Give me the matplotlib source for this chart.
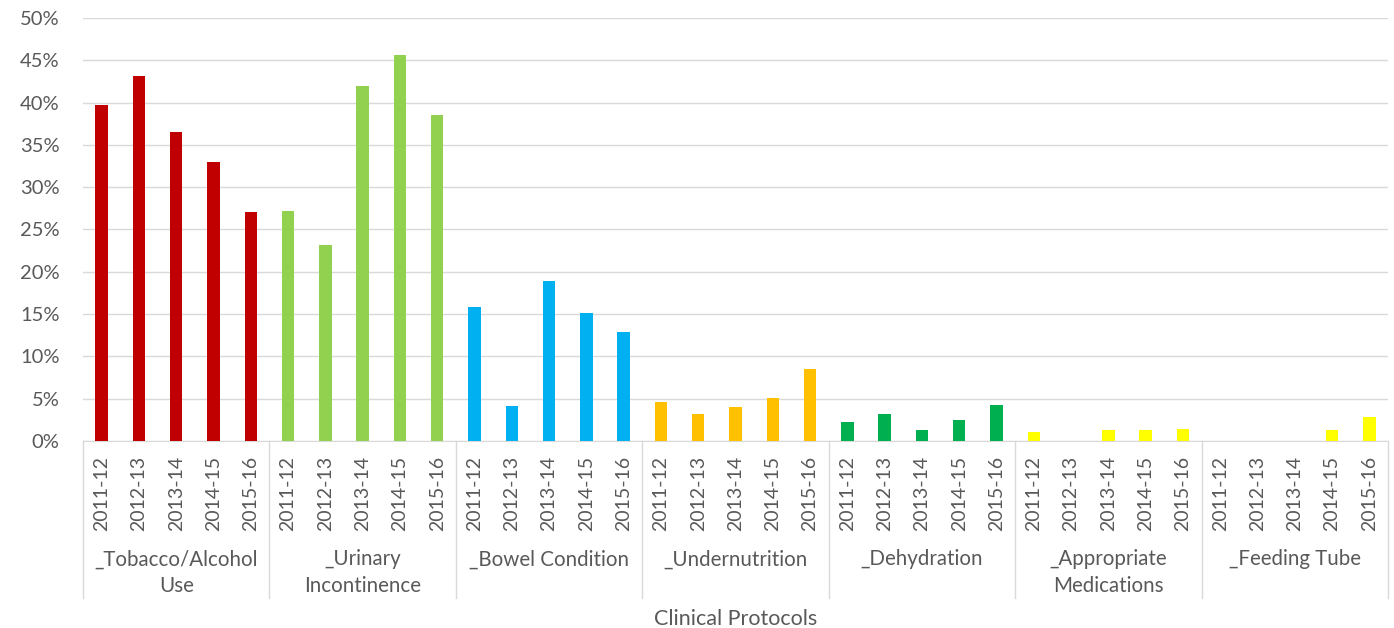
import matplotlib
matplotlib.use("Agg")
import matplotlib.pyplot as plt
import matplotlib.transforms as mtransforms
import numpy as np

plt.rcParams['font.family'] = ['Lato', 'DejaVu Sans']

years = ["2011-12", "2012-13", "2013-14", "2014-15", "2015-16"]
groups = ["_Tobacco/Alcohol\nUse", "_Urinary\nIncontinence", "_Bowel Condition",
          "_Undernutrition", "_Dehydration", "_Appropriate\nMedications", "_Feeding Tube"]
tobacco = [39.7, 43.1, 36.5, 33.0, 27.1]
urinary = [27.2, 23.2, 42.0, 45.6, 38.5]
bowel = [15.8, 4.1, 18.9, 15.1, 12.9]
undernutrition = [4.6, 3.2, 4.0, 5.1, 8.5]
dehydration = [2.2, 3.2, 1.3, 2.5, 4.3]
medications = [1.1, 0.0, 1.3, 1.3, 1.4]
feeding = [0.0, 0.0, 0.0, 1.3, 2.8]
series = [tobacco, urinary, bowel, undernutrition, dehydration, medications, feeding]
colors = ["#C00000", "#92D050", "#00B0F0", "#FFC000", "#00B050", "#FFFF00", "#FFFF00"]
yticks = [0, 5, 10, 15, 20, 25, 30, 35, 40, 45, 50]

gray = "#595959"
fig = plt.figure(figsize=(13.94, 6.28), dpi=100)
ax = fig.add_axes([83/1394, 187/628, (1388-83)/1394, 423/628])

n = len(years)
for gi, (vals, c) in enumerate(zip(series, colors)):
    x = np.arange(n) + gi * n
    ax.bar(x, vals, width=0.33, color=c, zorder=3)

ax.set_xlim(-0.5, len(groups) * n - 0.5)
ax.set_ylim(0, 50)
ax.set_yticks(yticks)
ax.set_yticklabels([f"{v}%" for v in yticks], color=gray, fontsize=14.5)
ax.yaxis.grid(True, color="#D9D9D9", linewidth=1, zorder=0)
for s in ["left", "right", "top"]:
    ax.spines[s].set_visible(False)
ax.spines["bottom"].set_color("#D9D9D9")
ax.tick_params(axis="both", length=0)
ax.tick_params(axis="y", pad=17)

ax.set_xticks(np.arange(len(groups) * n))
ax.set_xticklabels(years * len(groups), rotation=90, color=gray, fontsize=14)
ax.tick_params(axis="x", pad=11)

trans = mtransforms.blended_transform_factory(ax.transData, ax.transAxes)
for gi in range(len(groups) + 1):
    xb = gi * n - 0.5
    ax.plot([xb, xb], [0, -0.371], transform=trans, color="#D9D9D9",
            linewidth=1, clip_on=False)
for gi, g in enumerate(groups):
    ax.text(gi * n + (n - 1) / 2, -0.256, g, transform=trans, ha="center", va="top",
            fontsize=14.8, color=gray, linespacing=1.42)

ax.text(0.5, -0.397, "Clinical Protocols", transform=ax.transAxes, ha="center",
        va="top", fontsize=15.5, color=gray)

fig.savefig("out.png", dpi=100)
